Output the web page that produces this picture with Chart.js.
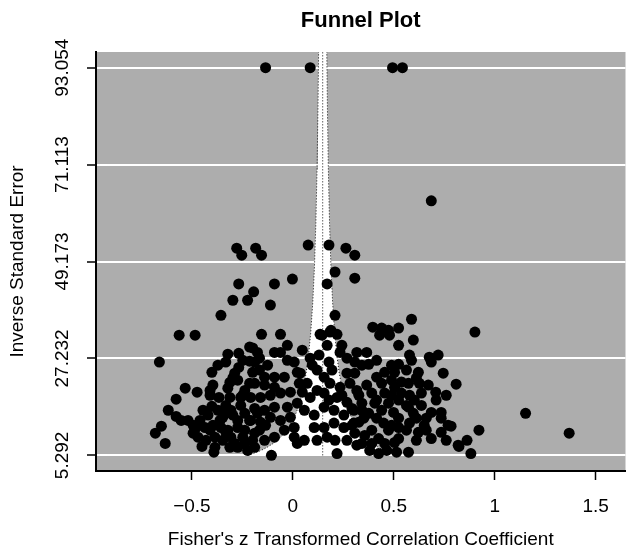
<!DOCTYPE html>
<html>
<head>
<meta charset="utf-8">
<title>Funnel Plot</title>
<script src="https://cdn.jsdelivr.net/npm/chart.js@4.4.1/dist/chart.umd.min.js"></script>
<style>
  html, body { margin: 0; padding: 0; background: #fff; }
</style>
</head>
<body>
<canvas id="funnel" width="631" height="552"></canvas>
<script>
// study effect sizes (Fisher's z) and their precision (1 / SE)
const fisherZ = [
  -0.135, 0.086, 0.494, 0.543, 0.686, -0.278, -0.253, -0.184, -0.155, 0.076,
  0.179, 0.263, 0.307, 0.209, 0.307, -0.268, -0.091, -0.002, 0.170, -0.194,
  -0.297, -0.224, -0.111, -0.356, 0.209, 0.588, 0.189, 0.396, 0.440, 0.474,
  0.524, -0.155, -0.061, 0.135, 0.184, 0.219, 0.902, -0.563, -0.484, 0.430,
  0.479, 0.597, 0.524, -0.661, -0.322, -0.268, -0.332, -0.268, -0.214, -0.214,
  -0.401, -0.297, -0.533, -0.474, -0.410, -0.322, -0.578, -0.410, -0.366, -0.312,
  -0.401, -0.258, -0.617, -0.578, -0.553, -0.651, -0.681, -0.632, -0.460, -0.479,
  -0.494, -0.435, -0.410, -0.386, -0.450, -0.386, -0.391, -0.361, -0.347, -0.322,
  -0.307, -0.356, -0.322, -0.273, -0.307, -0.288, -0.238, -0.238, -0.273, -0.258,
  -0.238, -0.214, -0.214, -0.238, -0.273, -0.288, -0.199, -0.175, -0.091, -0.061,
  -0.189, 0.007, 0.086, 0.130, 0.145, 0.179, 0.234, 0.268, 0.022, 0.037,
  0.120, 0.155, -0.140, -0.091, -0.042, -0.189, -0.140, -0.091, 0.032, 0.071,
  0.184, 0.234, 0.283, 0.268, -0.209, -0.160, -0.111, -0.061, -0.012, 0.086,
  0.155, 0.179, 0.219, 0.268, -0.189, -0.140, -0.091, -0.027, 0.022, 0.057,
  0.106, 0.155, 0.204, 0.253, 0.302, -0.209, -0.160, -0.111, -0.061, -0.012,
  0.007, 0.106, 0.155, 0.204, 0.253, 0.302, -0.189, -0.140, -0.091, -0.042,
  0.007, 0.057, 0.120, 0.170, 0.209, 0.268, -0.189, 0.219, -0.106, 0.022,
  0.317, 0.366, 0.578, 0.676, 0.720, 0.686, 0.307, 0.376, 0.524, 0.588,
  0.455, 0.415, 0.504, 0.622, 0.745, 0.307, 0.538, 0.573, 0.627, 0.809,
  0.504, 0.455, 0.391, 0.327, 0.538, 0.578, 0.637, 0.524, 0.602, 0.406,
  0.342, 0.474, 0.573, 0.293, 0.686, 0.735, 0.376, 0.499, 0.597, 0.735,
  0.524, 0.327, 0.450, 0.578, 0.651, 0.769, 0.391, 0.474, 0.524, 0.622,
  0.661, 0.735, 0.307, 0.356, 0.425, 0.524, 0.342, 0.391, 0.455, 0.504,
  0.381, 0.425, 0.573, 0.819, 1.153, 0.922, 0.863, 0.823, 0.882, 1.369,
  0.784,
  -0.445, -0.420, -0.371, -0.332, -0.297, -0.273, -0.248, -0.347, -0.312, -0.248,
  -0.199, -0.224, -0.430, -0.470, -0.494, -0.519, -0.396, -0.332, -0.165, -0.135,
  -0.175,
  0.342, 0.415, 0.489, 0.563, 0.612, 0.671, 0.708, 0.440, 0.489, 0.366,
  0.317, 0.415, 0.489, 0.563, 0.637, 0.710, 0.760, 0.352, 0.415, 0.489,
  0.563, 0.612, 0.686, 0.760, 0.465, 0.514, 0.317, 0.293, 0.661, 0.612,
  0.440, 0.342,
  -0.027, 0.047, 0.170, 0.243, 0.096, 0.194, -0.027, -0.125, -0.165, 0.243,
  0.120, 0.047,
  -0.371, -0.248, -0.312, -0.396, -0.199, -0.165
];
const inverseSE = [
  93.054, 93.054, 93.054, 93.054, 62.9, 52.2, 50.6, 52.2, 50.6, 52.9,
  52.9, 52.2, 50.6, 46.8, 45.4, 44.1, 44.1, 45.2, 44.1, 42.3,
  40.4, 40.4, 39.3, 37.0, 37.0, 36.1, 33.6, 34.3, 34.1, 33.6,
  34.1, 32.7, 32.7, 32.7, 33.2, 32.7, 33.2, 32.5, 32.5, 32.5,
  32.5, 31.4, 30.2, 26.4, 28.2, 28.4, 26.4, 25.2, 29.8, 26.6,
  24.1, 22.8, 20.5, 19.6, 20.0, 20.5, 18.0, 18.9, 18.4, 18.4,
  16.4, 18.4, 15.5, 14.1, 13.2, 11.9, 10.3, 8.0, 13.2, 11.6,
  10.3, 11.6, 11.0, 9.4, 7.3, 7.1, 6.0, 13.2, 13.9, 15.0,
  15.5, 11.6, 11.0, 11.6, 9.4, 8.0, 11.0, 8.0, 7.1, 16.6,
  14.8, 13.2, 21.6, 20.0, 22.3, 23.9, 29.6, 28.6, 28.6, 28.6,
  26.4, 26.4, 27.3, 28.0, 32.5, 26.4, 28.6, 27.3, 24.1, 23.9,
  24.6, 23.0, 23.0, 23.0, 23.0, 21.6, 21.2, 20.7, 21.6, 21.6,
  21.6, 20.7, 21.6, 23.9, 18.4, 18.4, 18.9, 19.4, 19.6, 18.4,
  19.4, 17.8, 18.4, 17.3, 15.9, 15.5, 16.2, 16.2, 17.1, 15.5,
  14.4, 16.2, 15.5, 14.4, 15.5, 13.2, 12.8, 13.9, 13.2, 13.9,
  11.6, 11.6, 11.6, 12.6, 11.6, 12.6, 10.3, 8.7, 9.4, 11.0,
  9.4, 8.7, 8.7, 9.4, 8.7, 8.7, 7.1, 5.7, 5.292, 8.0,
  28.6, 28.6, 28.0, 27.5, 28.0, 26.4, 26.4, 25.9, 25.9, 26.8,
  24.1, 23.0, 24.1, 24.1, 23.9, 23.9, 21.9, 21.6, 21.6, 21.4,
  20.7, 19.4, 19.4, 18.9, 19.4, 18.9, 19.4, 17.8, 17.8, 17.1,
  17.1, 17.1, 16.2, 15.9, 15.0, 15.0, 14.8, 15.0, 14.8, 13.7,
  13.7, 12.8, 12.6, 12.6, 12.1, 12.1, 11.0, 11.0, 11.6, 10.5,
  11.0, 10.5, 10.3, 9.8, 9.1, 9.1, 8.0, 8.0, 8.0, 8.2,
  6.4, 5.7, 6.0, 7.6, 14.8, 11.0, 8.7, 7.3, 5.7, 10.3,
  11.9,
  15.5, 14.4, 15.5, 16.6, 14.4, 13.2, 18.9, 8.7, 7.1, 9.4,
  8.7, 6.4, 8.7, 9.4, 12.1, 13.2, 12.1, 10.5, 11.0, 12.1,
  14.8,
  25.7, 26.8, 25.7, 24.6, 22.8, 21.2, 19.6, 21.6, 22.3, 21.2,
  20.0, 17.8, 18.9, 16.6, 16.6, 17.8, 18.9, 13.7, 13.7, 12.1,
  11.0, 8.7, 9.1, 8.7, 6.4, 6.0, 7.6, 12.1, 13.7, 13.7,
  15.5, 15.5,
  30.2, 29.1, 30.2, 30.2, 25.7, 24.6, 26.8, 25.7, 24.6, 18.9,
  20.0, 19.6,
  25.7, 26.8, 21.8, 21.2, 24.1, 27.3
];

const estimate = 0.148;   // pooled estimate (reference line)
const zCrit = 1.96;       // 95% pseudo confidence region

const yTicks = [5.292, 27.232, 49.173, 71.113, 93.054];
const yTickLabels = ['5.292', '27.232', '49.173', '71.113', '93.054'];
const xTicks = [-0.5, 0, 0.5, 1, 1.5];
const xTickLabels = ['\u22120.5', '0', '0.5', '1', '1.5'];

// precision levels along which the funnel edges are traced
const funnelLevels = [5.292, 5.5, 5.8, 6.2, 6.7, 7.3, 8, 9, 10, 11.5, 13, 15,
  17.5, 20, 24, 28, 33, 40, 48, 58, 70, 84, 96.6];

const points = fisherZ.map((z, i) => ({ x: z, y: inverseSE[i] }));
const leftEdge = funnelLevels.map(p => ({ x: estimate - zCrit / p, y: p }));
const rightEdge = funnelLevels.map(p => ({ x: estimate + zCrit / p, y: p }));
const region = leftEdge.concat(rightEdge.slice().reverse());

const font = 'Liberation Sans, Arial, Helvetica, sans-serif';

const plotBackground = {
  id: 'plotBackground',
  beforeDraw(chart) {
    const { ctx, chartArea } = chart;
    ctx.save();
    ctx.fillStyle = '#adadad';
    ctx.fillRect(chartArea.left, chartArea.top,
      chartArea.right - chartArea.left, chartArea.bottom - chartArea.top);
    ctx.restore();
  }
};

const dotted = {
  type: 'line',
  borderColor: '#111',
  borderWidth: 1,
  borderDash: [1, 2],
  pointRadius: 0,
  fill: false,
  tension: 0,
  order: 1
};

new Chart(document.getElementById('funnel'), {
  type: 'scatter',
  data: {
    datasets: [
      {
        label: 'Studies',
        data: points,
        pointRadius: 5.5,
        pointBackgroundColor: '#000',
        pointBorderWidth: 0,
        order: 0
      },
      Object.assign({ label: 'Lower bound', data: leftEdge }, dotted),
      Object.assign({ label: 'Upper bound', data: rightEdge }, dotted),
      Object.assign({ label: 'Estimate', data: [{ x: estimate, y: 5.292 }, { x: estimate, y: 96.6 }] }, dotted),
      {
        label: 'Region',
        type: 'line',
        data: region,
        fill: 'shape',
        backgroundColor: '#ffffff',
        borderWidth: 0,
        pointRadius: 0,
        tension: 0,
        order: 5
      }
    ]
  },
  options: {
    responsive: false,
    animation: false,
    layout: { padding: 0 },
    plugins: {
      legend: { display: false },
      tooltip: { enabled: false },
      title: {
        display: true,
        text: 'Funnel Plot',
        fullSize: false,
        color: '#000',
        font: { family: font, size: 22, weight: 'bold' },
        padding: { top: 8, bottom: 17.6 }
      }
    },
    scales: {
      x: {
        type: 'linear',
        min: -0.975,
        max: 1.648,
        afterBuildTicks(scale) { scale.ticks = xTicks.map(v => ({ value: v })); },
        afterFit(scale) { scale.height = 81; },
        grid: { drawOnChartArea: false, tickLength: 9, tickColor: '#000', tickWidth: 1.5 },
        border: { display: true, color: '#000', width: 2 },
        ticks: {
          callback: (v, i) => xTickLabels[i],
          color: '#000',
          font: { family: font, size: 19 },
          padding: 15,
          maxRotation: 0,
          autoSkip: false
        },
        title: {
          display: true,
          text: "Fisher's z Transformed Correlation Coefficient",
          color: '#000',
          font: { family: font, size: 19 },
          padding: { top: 0, bottom: 1 }
        }
      },
      y: {
        type: 'linear',
        min: 1.75,
        max: 96.6,
        afterBuildTicks(scale) { scale.ticks = yTicks.map(v => ({ value: v })); },
        afterFit(scale) { scale.width = 96; },
        grid: { color: '#fff', lineWidth: 2, tickLength: 9, tickColor: '#000', tickWidth: 1.5 },
        border: { display: true, color: '#000', width: 2 },
        ticks: {
          callback: (v, i) => yTickLabels[i],
          color: '#000',
          font: { family: font, size: 19 },
          minRotation: 90,
          maxRotation: 90,
          crossAlign: 'center',
          padding: -5,
          autoSkip: false
        },
        title: {
          display: true,
          text: 'Inverse Standard Error',
          color: '#000',
          font: { family: font, size: 19 },
          padding: { top: 6, bottom: 0 }
        }
      }
    }
  },
  plugins: [plotBackground]
});
</script>
</body>
</html>
